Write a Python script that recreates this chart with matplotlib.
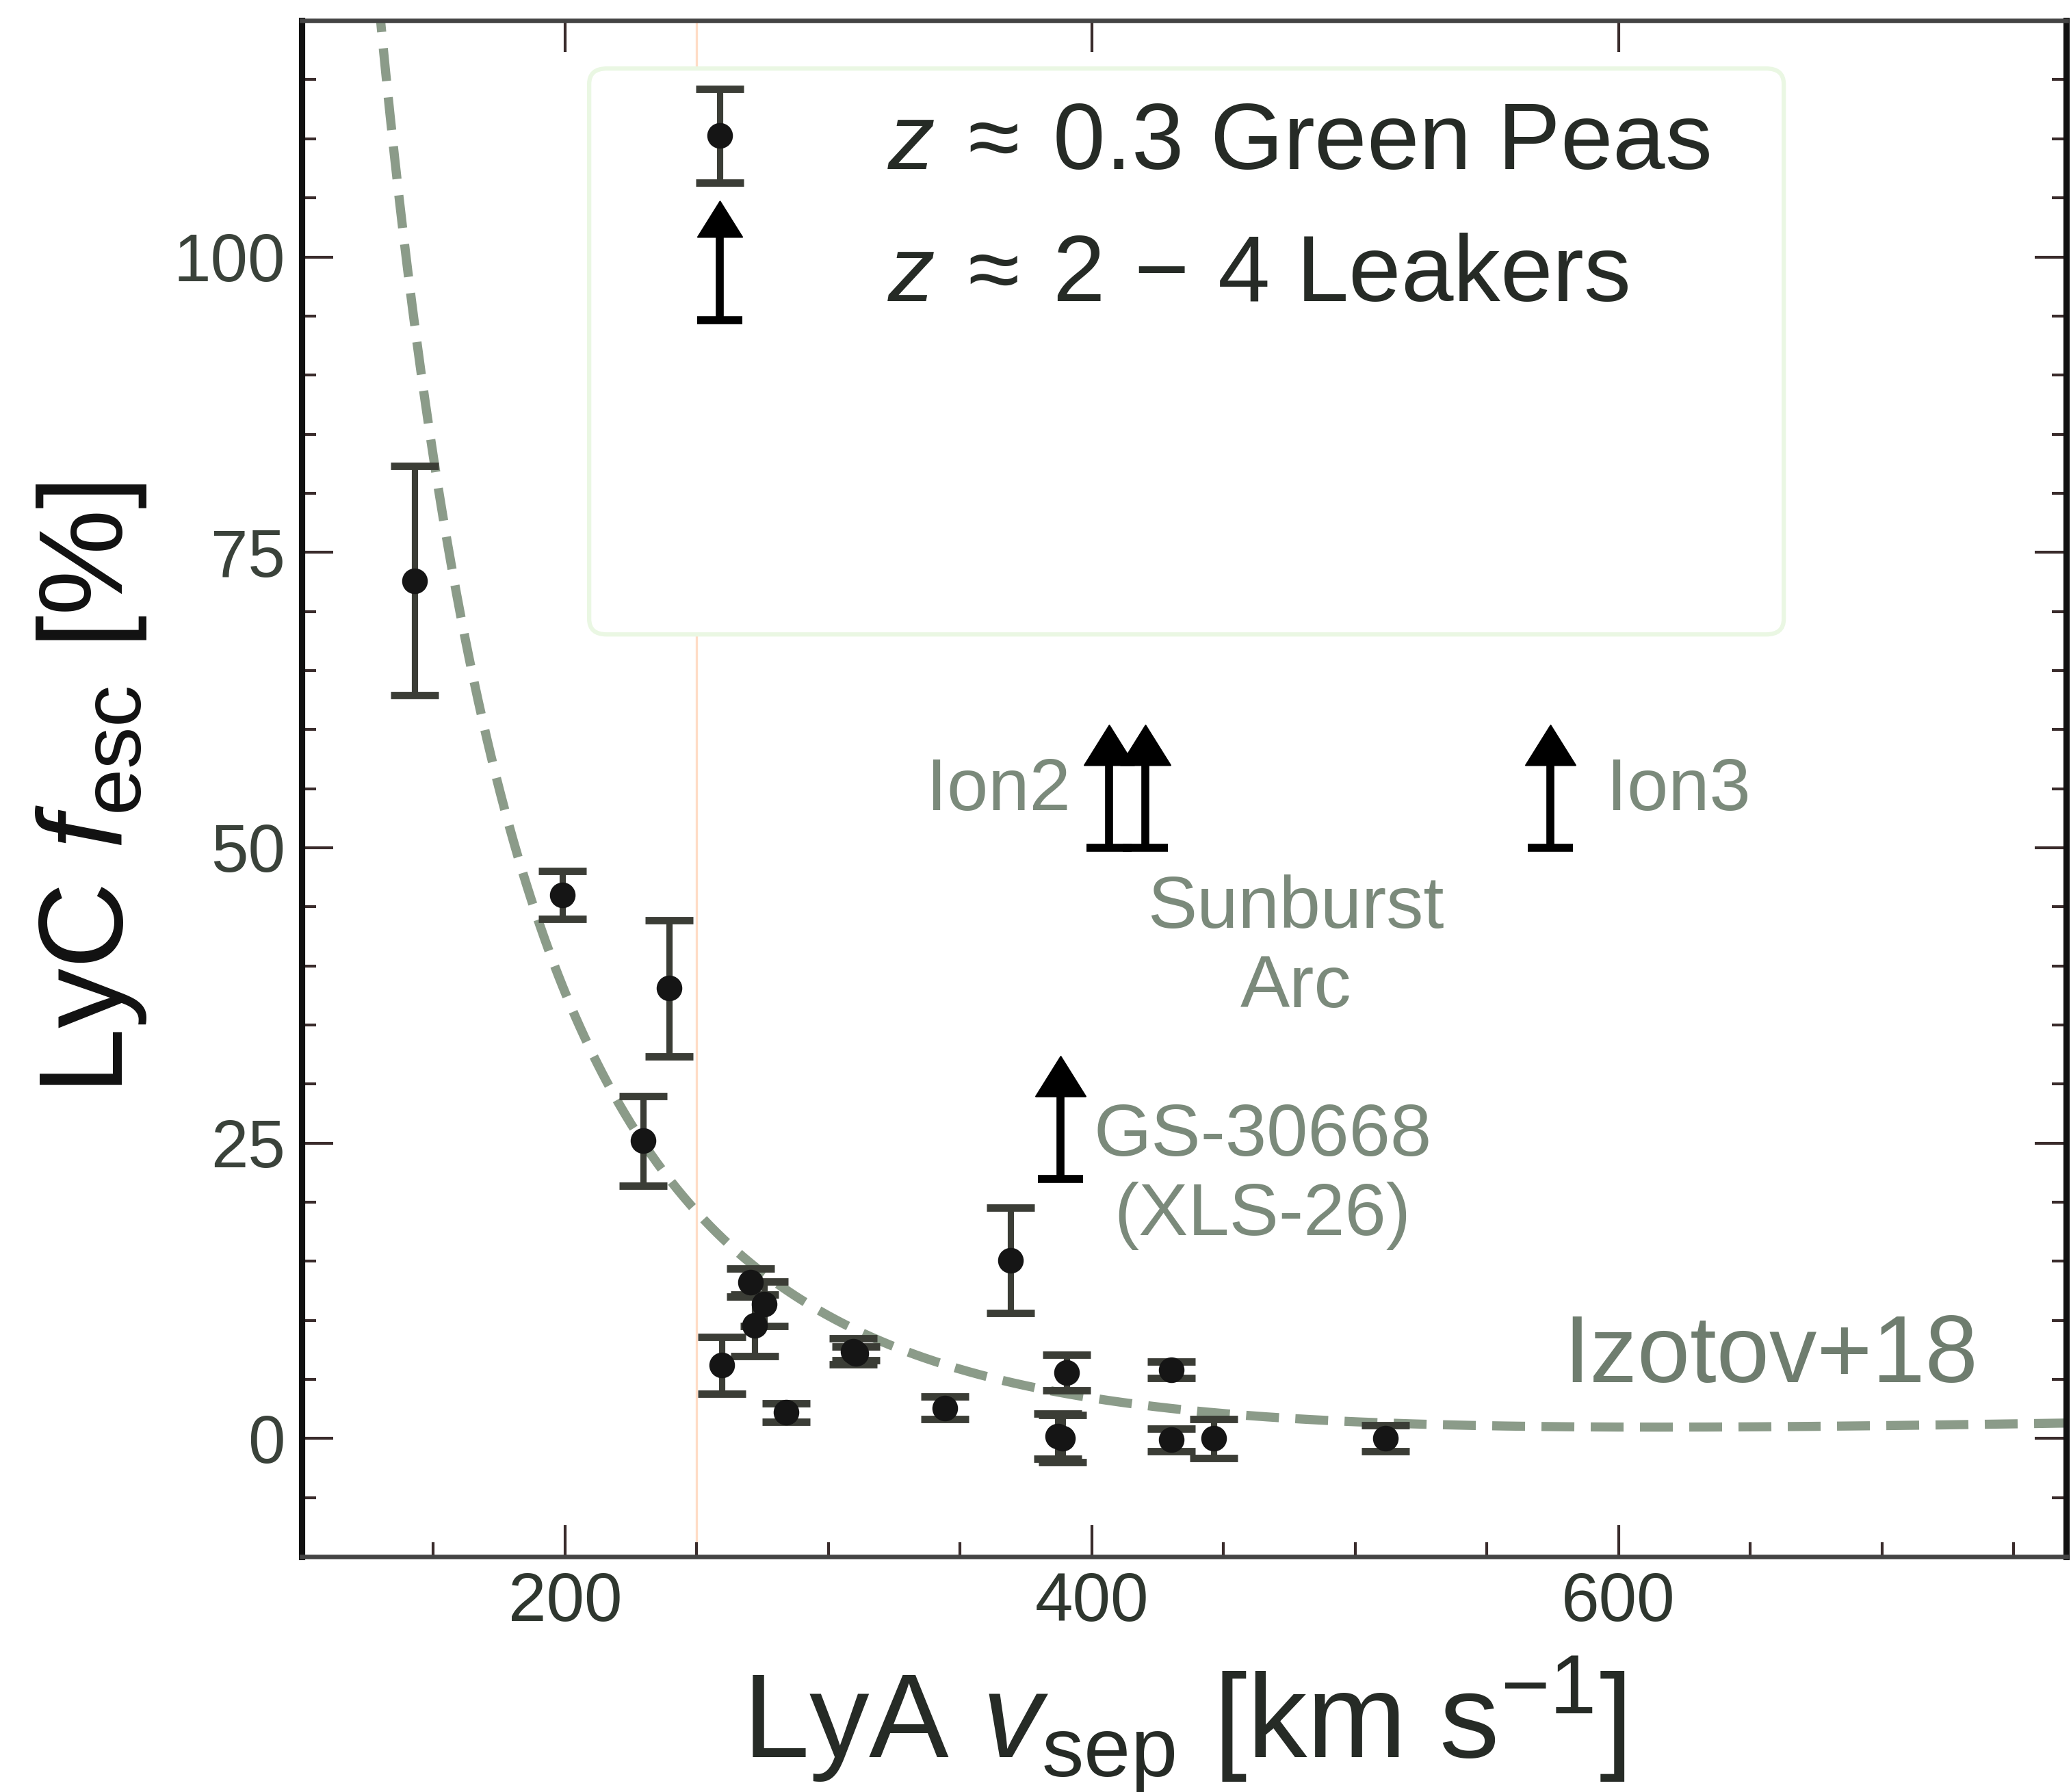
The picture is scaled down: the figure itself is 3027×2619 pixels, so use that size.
import numpy as np
import matplotlib
matplotlib.use("Agg")
import matplotlib.pyplot as plt
from matplotlib.lines import Line2D
from matplotlib.path import Path
from matplotlib.patches import FancyBboxPatch
from matplotlib.legend_handler import HandlerBase
from matplotlib.ticker import MultipleLocator

plt.rcParams['font.family'] = ['Liberation Sans', 'DejaVu Sans']
plt.rcParams['mathtext.fontset'] = 'custom'
plt.rcParams['mathtext.rm'] = 'Liberation Sans'
plt.rcParams['mathtext.it'] = 'Liberation Sans:italic'
plt.rcParams['mathtext.bf'] = 'Liberation Sans:bold'

# z ~ 0.3 Green Peas: Lya peak separation [km/s], LyC escape fraction [%], 1-sigma error
gp_vsep = [142.9, 198.9, 229.6, 239.4, 259.4, 270.3, 275.5, 272.0, 284.0, 309.5,
           310.5, 344.2, 369.1, 387.0, 389.0, 390.4, 430.2, 430.2, 446.3, 511.6]
gp_fesc = [72.6, 46.0, 25.2, 38.1, 6.2, 13.2, 11.4, 9.6, 2.2, 7.4,
           7.2, 2.6, 15.1, 0.2, 0.0, 5.6, 5.8, -0.1, 0.0, 0.0]
gp_err = [9.7, 2.05, 3.8, 5.75, 2.4, 1.2, 1.9, 2.6, 0.8, 1.1,
          0.6, 0.95, 4.45, 1.9, 2.0, 1.5, 0.7, 0.95, 1.65, 1.1]

# z ~ 2-4 leakers (lower limits on f_esc)
lim_vsep = [388.1, 406.5, 420.3, 574.2]
lim_fesc = [22.0, 50.0, 50.0, 50.0]

# Izotov et al. (2018) relation: f_esc = a / v^2 + b / v + c
izotov_a, izotov_b, izotov_c = 3.23e4, -1.05e2, 0.095

x_major = [200, 400, 600]
y_major = [0, 25, 50, 75, 100]

GP_BAR = '#3b3d36'
NOTE = '#7b8a7b'
CURVE = '#8b9b89'
TICK = '#3a2c2c'

# filled arrow head with its base on the anchor point
HEAD = Path([(-1, 0), (1, 0), (0, 1.6), (-1, 0)],
            [Path.MOVETO, Path.LINETO, Path.LINETO, Path.CLOSEPOLY])
HEAD_MS = 28


class LowerLimitHandler(HandlerBase):
    def create_artists(self, legend, orig_handle, xdescent, ydescent,
                       width, height, fontsize, trans):
        xc = 0.5 * width - xdescent
        yc = 0.5 * height - ydescent
        ms = 25
        y_bot = yc - 0.55 * fontsize
        y_base = yc + 0.71 * fontsize - 0.5 * ms
        shaft = Line2D([xc, xc], [y_bot, y_base], color='black', lw=2.8,
                       solid_capstyle='butt')
        cap = Line2D([xc], [y_bot], marker='_', ms=16, mew=2.8,
                     color='black', ls='none')
        tip = Line2D([xc], [y_base], marker=HEAD, ms=ms, mfc='black',
                     mec='black', mew=0.5, ls='none')
        for art in (shaft, cap, tip):
            art.set_transform(trans)
        return [shaft, cap, tip]


fig = plt.figure(figsize=(3027 / 300, 2619 / 300), dpi=300)
ax = fig.add_axes([0.1457, 0.1313, 0.852, 0.8572])

v = np.linspace(105, 775, 800)
ax.plot(v, 100 * (izotov_a / v**2 + izotov_b / v + izotov_c),
        ls=(0, (3.6, 1.8)), lw=3.2, color=CURVE, zorder=2)
ax.axvline(250, color='#ffdcc6', lw=0.8, zorder=1)

gp = ax.errorbar(gp_vsep, gp_fesc, yerr=gp_err, fmt='o', ms=8,
                 mfc='#151515', mec='#151515', ecolor=GP_BAR,
                 elinewidth=2.2, capsize=8.3, capthick=2.6, zorder=4)

lk = ax.errorbar(lim_vsep, lim_fesc, yerr=7.0, lolims=True, fmt='none',
                 ecolor='black', elinewidth=2.8, capsize=8, capthick=2.8,
                 zorder=4)
for cl in lk.lines[1]:
    if cl.get_marker() == matplotlib.lines.CARETUPBASE:
        cl.set_marker(HEAD)
        cl.set_markersize(HEAD_MS)
        cl.set_markerfacecolor('black')
        cl.set_markeredgecolor('black')
        cl.set_markeredgewidth(0.5)

# annotations
ax.text(392.0, 53.2, 'Ion2', fontsize=26, color=NOTE, ha='right', va='baseline')
ax.text(595.5, 53.2, 'Ion3', fontsize=26, color=NOTE, ha='left', va='baseline')
ax.text(477.5, 41.5, 'Sunburst\nArc', fontsize=26, color=NOTE,
        ha='center', va='center', multialignment='center')
ax.text(464.8, 22.2, 'GS-30668\n(XLS-26)', fontsize=26, color=NOTE,
        ha='center', va='center', multialignment='center')
ax.text(579.0, 4.8, 'Izotov+18', fontsize=33.3, color='#6f7d6f',
        ha='left', va='baseline')

# legend frame and entries
frame = FancyBboxPatch((0.1629, 0.6004), 0.677, 0.3684,
                       boxstyle='round,pad=0,rounding_size=0.01',
                       transform=ax.transAxes, facecolor='white',
                       edgecolor='#eaf7e3', lw=1.5, zorder=3)
ax.add_patch(frame)
leg = ax.legend([gp, lk],
                [r'$z \:\approx\: 0.3$ Green Peas', r'$z \:\approx\: 2 \,-\, 4$ Leakers'],
                handler_map={lk: LowerLimitHandler()},
                loc='center left', bbox_to_anchor=(0.2103, 0.8763),
                frameon=False, fontsize=33, labelcolor='#262b26',
                handlelength=1.0, handletextpad=1.28, labelspacing=0.47,
                borderpad=0, borderaxespad=0)
leg.set_zorder(5)

ax.set_xlim(100, 770)
ax.set_ylim(-10, 120)
ax.set_xticks(x_major)
ax.set_yticks(y_major)
ax.xaxis.set_minor_locator(MultipleLocator(50))
ax.yaxis.set_minor_locator(MultipleLocator(5))
ax.tick_params(which='both', direction='in', top=True, right=True,
               color=TICK, width=1.0)
ax.tick_params(which='major', length=11)
ax.tick_params(which='minor', length=5)
ax.tick_params(axis='x', which='minor', top=False)
ax.tick_params(axis='x', labelsize=24, labelcolor='#2f372f', pad=5)
ax.tick_params(axis='y', labelsize=23.5, labelcolor='#3a423a', pad=5.8)

for side in ('left', 'right'):
    ax.spines[side].set_linewidth(2.2)
    ax.spines[side].set_color('#111111')
for side in ('top', 'bottom'):
    ax.spines[side].set_linewidth(1.6)
    ax.spines[side].set_color('#444444')

ax.set_xlabel(r'LyA $v_{\rm sep}$ [km s$^{-1}$]', fontsize=42, color='#262b26')
ax.set_ylabel(r'LyC $f_{\rm esc}$ [%]', fontsize=42, color='#111111')
ax.xaxis.set_label_coords(0.5, -0.0637)
ax.yaxis.set_label_coords(-0.0869, 0.5)

fig.savefig('out.png', dpi=300)
